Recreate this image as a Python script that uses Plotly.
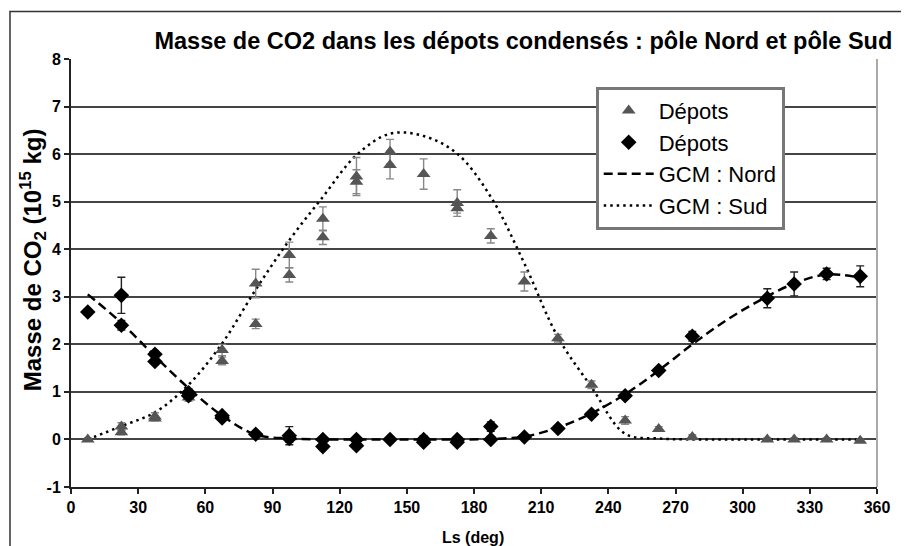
"""
Masse de CO2 dans les dépots condensés : pôle Nord et pôle Sud
"""

import plotly.graph_objects as go

# Observations pôle Sud (triangles)
sud_ls = [7.5, 22.5, 22.5, 37.5, 37.5, 52.5, 67.5, 67.5, 82.5, 82.5, 97.5, 97.5,
          112.5, 112.5, 127.5, 127.5, 142.5, 142.5, 157.5, 172.5, 172.5, 187.5,
          202.5, 217.5, 232.5, 247.5, 262.5, 277.5, 311, 323, 337.5, 352.5]
sud_val = [0.0, 0.27, 0.15, 0.48, 0.44, 0.88, 1.88, 1.65, 3.28, 2.43, 3.88, 3.46,
           4.64, 4.25, 5.53, 5.42, 6.05, 5.77, 5.58, 4.97, 4.86, 4.28,
           3.32, 2.13, 1.15, 0.40, 0.22, 0.05, 0.0, 0.0, 0.0, -0.03]
sud_err = [0.03, 0.08, 0.05, 0.08, 0.05, 0.08, 0.12, 0.08, 0.3, 0.1, 0.27, 0.15,
           0.25, 0.15, 0.4, 0.25, 0.26, 0.29, 0.32, 0.28, 0.1, 0.15,
           0.2, 0.08, 0.08, 0.08, 0.05, 0.05, 0.03, 0.03, 0.03, 0.03]

# Observations pôle Nord (losanges)
nord_ls = [7.5, 22.5, 22.5, 37.5, 37.5, 52.5, 52.5, 67.5, 67.5, 82.5, 97.5, 97.5,
           112.5, 112.5, 127.5, 127.5, 142.5, 157.5, 157.5, 172.5, 172.5,
           187.5, 187.5, 202.5, 217.5, 232.5, 247.5, 262.5, 277.5, 311, 323,
           337.5, 352.5]
nord_val = [2.68, 3.03, 2.40, 1.79, 1.64, 0.98, 0.92, 0.50, 0.45, 0.11, 0.08, 0.02,
            0.0, -0.15, 0.0, -0.13, 0.0, 0.0, -0.06, 0.0, -0.06,
            0.27, 0.0, 0.05, 0.23, 0.53, 0.92, 1.45, 2.17, 2.97, 3.27,
            3.48, 3.43]
nord_err = [0.07, 0.38, 0.1, 0.07, 0.06, 0.08, 0.05, 0.06, 0.05, 0.05, 0.19, 0.08,
            0.05, 0.06, 0.04, 0.06, 0.05, 0.08, 0.05, 0.06, 0.05,
            0.1, 0.05, 0.04, 0.04, 0.05, 0.05, 0.05, 0.1, 0.2, 0.25,
            0.12, 0.22]

# Modèle GCM
gcm_ls = [7.5, 22.5, 37.5, 52.5, 67.5, 82.5, 97.5, 112.5, 127.5, 142.5, 157.5,
          172.5, 187.5, 202.5, 217.5, 232.5, 247.5, 262.5, 277.5, 292.5, 307.5,
          322.5, 337.5, 352.5]
gcm_nord = [3.05, 2.45, 1.75, 1.08, 0.50, 0.10, 0.02, 0.0, 0.0, 0.0, 0.0,
            0.0, 0.01, 0.06, 0.25, 0.55, 0.95, 1.45, 2.0, 2.5, 2.92,
            3.27, 3.47, 3.40]
gcm_sud = [0.0, 0.28, 0.57, 1.15, 2.02, 3.15, 4.19, 5.10, 5.98, 6.43, 6.38,
           6.01, 5.10, 3.70, 2.15, 1.10, 0.12, 0.02, 0.0, 0.0, 0.0,
           0.0, 0.0, 0.0]

# graduations
x_ticks = list(range(0, 361, 30))
y_ticks = list(range(-1, 9))

FONT = "Liberation Sans, Arial, sans-serif"

fig = go.Figure()

fig.add_trace(go.Scatter(
    x=gcm_ls, y=gcm_sud, mode="lines", name="GCM : Sud",
    line=dict(color="black", width=2.5, dash="2.5px,4px", shape="spline"),
    legendrank=4))
fig.add_trace(go.Scatter(
    x=gcm_ls, y=gcm_nord, mode="lines", name="GCM : Nord",
    line=dict(color="black", width=2.5, dash="9px,5px", shape="spline"),
    legendrank=3))

fig.add_trace(go.Scatter(
    x=sud_ls, y=sud_val, mode="markers", name="Dépots",
    marker=dict(symbol="triangle-up", size=12, color="#555"),
    error_y=dict(type="data", array=sud_err, color="#888", thickness=1.4, width=4),
    legendrank=1))
fig.add_trace(go.Scatter(
    x=nord_ls, y=nord_val, mode="markers", name="Dépots",
    marker=dict(symbol="diamond", size=12, color="black"),
    error_y=dict(type="data", array=nord_err, color="#222", thickness=1.4, width=4),
    legendrank=2))

# cadre extérieur + bord droit de la zone de tracé
fig.add_shape(type="rect", xref="paper", yref="paper",
              x0=-0.0757, x1=1.06, y0=-0.3, y1=1.111,
              line=dict(color="#333", width=1.5), layer="below")
fig.add_shape(type="line", xref="paper", yref="paper",
              x0=1, x1=1, y0=0, y1=1, line=dict(color="#aaa", width=2))

fig.update_xaxes(
    range=[0, 360], tickvals=x_ticks, ticktext=[f"<b>{v}</b>" for v in x_ticks],
    showgrid=False, zeroline=False, automargin=False,
    showline=True, linecolor="#222", linewidth=2,
    ticks="outside", ticklen=5, tickcolor="#222", tickwidth=1.5,
    tickfont=dict(family=FONT, size=16, color="black"))
fig.update_yaxes(
    range=[-1, 8], tickvals=y_ticks, ticktext=[f"<b>{v}</b>" for v in y_ticks],
    showgrid=True, gridcolor="#444", gridwidth=1.8,
    zeroline=False, automargin=False,
    showline=True, linecolor="#222", linewidth=2,
    ticks="outside", ticklen=5, tickcolor="#222", tickwidth=1.5,
    tickfont=dict(family=FONT, size=16, color="black"))

fig.add_annotation(text="<b>Masse de CO<sub>2</sub> (10<sup>15</sup> kg)</b>",
                   xref="paper", yref="paper", x=-0.047, y=0.53,
                   xanchor="center", yanchor="middle", textangle=-90,
                   showarrow=False, font=dict(family=FONT, size=24, color="black"))
fig.add_annotation(text="<b>Ls (deg)</b>",
                   xref="paper", yref="paper", x=0.499, y=-0.117,
                   xanchor="center", yanchor="middle",
                   showarrow=False, font=dict(family=FONT, size=16, color="black"))

# la page ajoute 8 px de marge : figure réduite d'autant
fig.update_layout(
    width=901, height=538,
    margin=dict(l=63, r=32, t=51, b=59),
    paper_bgcolor="white", plot_bgcolor="white",
    title=dict(text="<b>Masse de CO2 dans les dépots condensés : pôle Nord et pôle Sud</b>",
               x=0.572, xanchor="center", y=0.94, yanchor="middle",
               font=dict(family=FONT, size=23.5, color="black")),
    legend=dict(x=0.651, y=0.935, xanchor="left", yanchor="top",
                bgcolor="white", bordercolor="#777", borderwidth=3,
                font=dict(family=FONT, size=22, color="black"),
                itemwidth=50),
    showlegend=True,
)

fig.write_html("out.html")
